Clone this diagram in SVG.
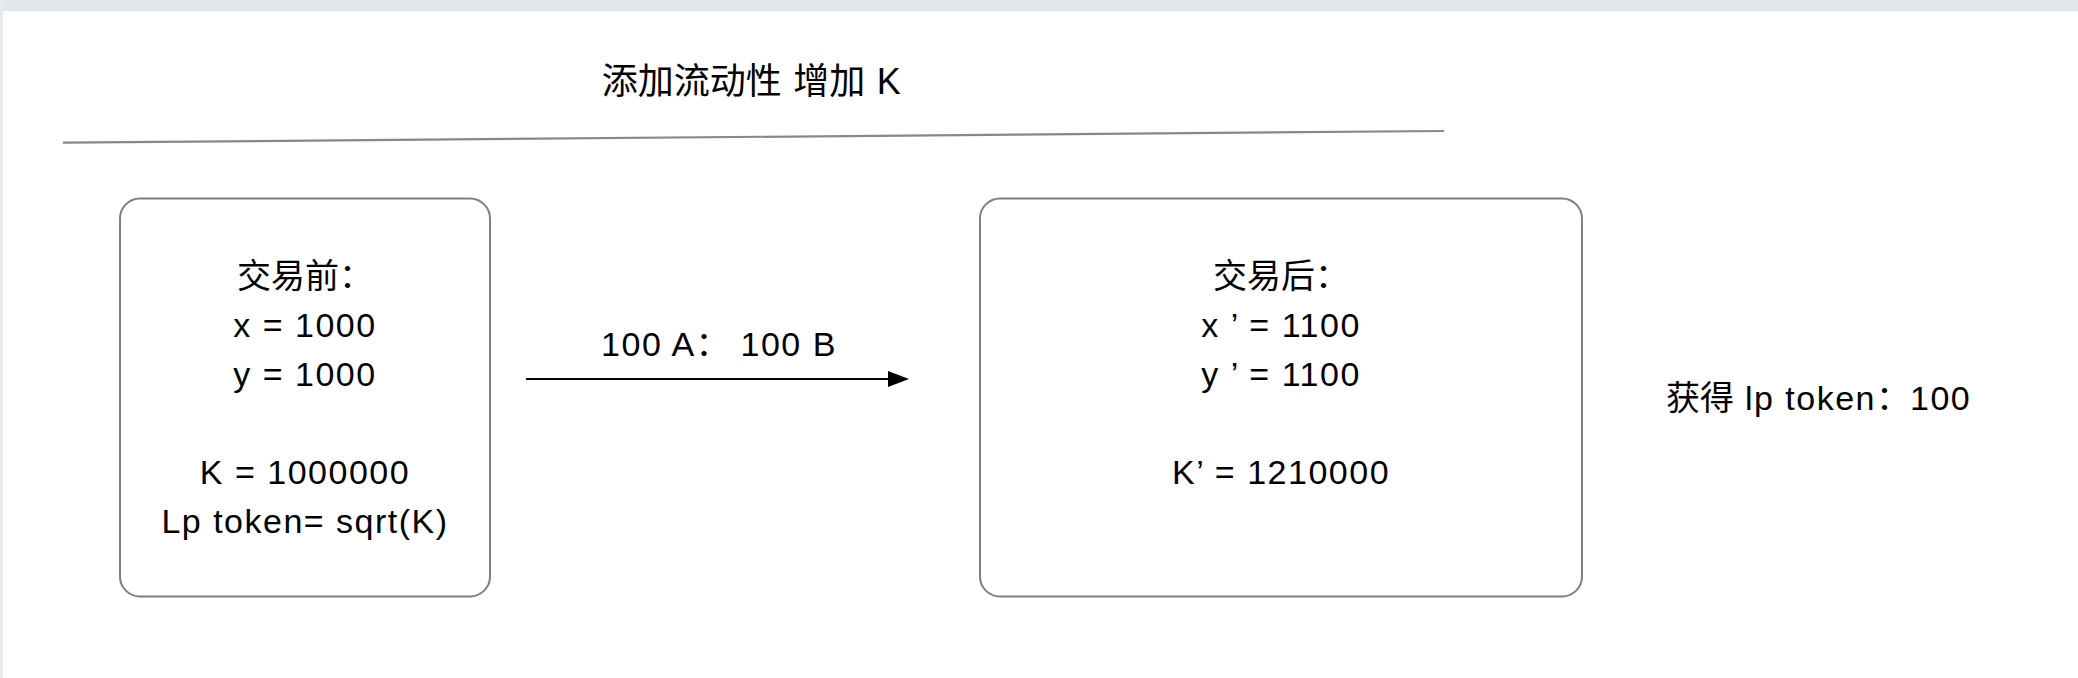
<svg xmlns="http://www.w3.org/2000/svg" width="2078" height="678" viewBox="0 0 2078 678">
  <style>
    text { font-family: "Liberation Sans", "Noto Sans CJK SC", sans-serif; fill: #000; font-size: 34px; letter-spacing: 1.5px; }
    .c { letter-spacing: 0px; }
    .mid { text-anchor: middle; }
    .title { font-size: 36px; }
    .box { fill: #ffffff; stroke: #7f7f7f; stroke-width: 2; }
    .rule { stroke: #888888; stroke-width: 2.2; fill: none; }
    .edge { stroke: #000; stroke-width: 2; fill: none; }
  </style>
  <defs>
    <marker id="arrow" markerWidth="22" markerHeight="16" refX="1" refY="8" orient="auto" markerUnits="userSpaceOnUse">
      <path d="M1,0 L22,8 L1,16 Z" fill="#000"/>
    </marker>
  </defs>
  <rect x="0" y="0" width="2078" height="678" fill="#ffffff"/>
  <rect x="0" y="0" width="2078" height="11" fill="#e4e7ea"/>
  <rect x="0" y="0" width="3" height="678" fill="#e8eaed"/>

  <g id="title">
    <text class="title mid" x="752" y="94"><tspan class="c">添加流动性</tspan> <tspan class="c">增加</tspan> K</text>
    <line class="rule" x1="63" y1="142.7" x2="1444" y2="131"/>
  </g>

  <g id="before">
    <rect class="box" x="120" y="198.5" width="370" height="398" rx="20" ry="20"/>
    <text class="mid" x="305" y="288"><tspan class="c">交易前：</tspan></text>
    <text class="mid" x="305" y="337">x = 1000</text>
    <text class="mid" x="305" y="386">y = 1000</text>
    <text class="mid" x="305" y="484">K = 1000000</text>
    <text class="mid" x="305" y="533">Lp token= sqrt(K)</text>
  </g>

  <g id="after">
    <rect class="box" x="980" y="198.5" width="602" height="398" rx="20" ry="20"/>
    <text class="mid" x="1281" y="288"><tspan class="c">交易后：</tspan></text>
    <text class="mid" x="1281" y="337">x ’ = 1100</text>
    <text class="mid" x="1281" y="386">y ’ = 1100</text>
    <text class="mid" x="1281" y="484">K’ = 1210000</text>
  </g>

  <g id="result">
    <text x="1666" y="410"><tspan class="c">获得</tspan> lp token<tspan class="c">：</tspan>100</text>
  </g>

  <g id="connectors">
    <line class="edge" x1="526" y1="379" x2="888" y2="379" marker-end="url(#arrow)"/>
    <text class="mid" x="719" y="356">100 A<tspan class="c">：</tspan> 100 B</text>
  </g>
</svg>
